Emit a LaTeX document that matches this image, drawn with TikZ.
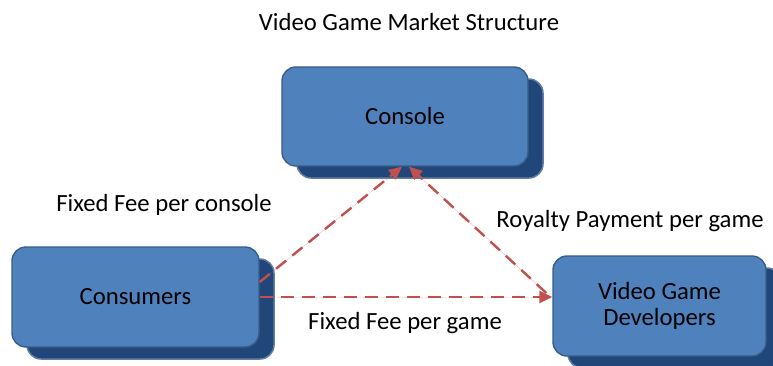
\documentclass[tikz,border=0pt]{standalone}
\usepackage{fontspec}
\setmainfont{Carlito}
\usetikzlibrary{shadows,arrows.meta,calc}
\definecolor{boxfill}{RGB}{79,129,189}
\definecolor{boxline}{RGB}{56,93,138}
\definecolor{shadowc}{RGB}{33,70,122}
\definecolor{arrc}{RGB}{192,80,77}
\tikzset{
  blockbox/.style={rectangle, rounded corners=14pt, fill=boxfill, draw=boxline, line width=1.4pt,
    align=center, font=\fontsize{24.7}{26.5}\selectfont,
    general shadow={fill=shadowc, draw=shadowc!70!white, line width=1.5pt, shadow xshift=15pt, shadow yshift=-12pt}},
  lbl/.style={font=\fontsize{24.7}{29}\selectfont},
  arr/.style={draw=arrc, line width=2.4pt, dash pattern=on 13pt off 8pt, -{Triangle[length=13pt,width=12pt]}, arrc, fill=arrc}
}
\begin{document}
\begin{tikzpicture}[x=1pt,y=-1pt]
\useasboundingbox[fill=white] (0,0) rectangle (773,365);
\node[blockbox, minimum width=246pt, minimum height=99pt] (con) at (405,116.5) {Console};
\node[blockbox, minimum width=247pt, minimum height=100pt] (cons) at (135.5,297) {Consumers};
\node[blockbox, minimum width=213pt, minimum height=100pt] (dev) at (659.5,306) {Video Game\\Developers};
\node[lbl] (title) at (409,22) {Video Game Market Structure};
\node[lbl] (l1) at (164,205) {Fixed Fee per console};
\node[lbl] (l2) at (630,221) {Royalty Payment per game};
\node[lbl] (l3) at (405,323) {Fixed Fee per game};
\draw[arr] ([yshift=15pt]cons.east) -- ([xshift=-3pt]con.south);
\draw[arr] ([xshift=-6pt,yshift=13pt]dev.west) -- ([xshift=4pt]con.south);
\draw[arr] (cons.east) -- (cons.east -| dev.west);
\end{tikzpicture}
\end{document}
